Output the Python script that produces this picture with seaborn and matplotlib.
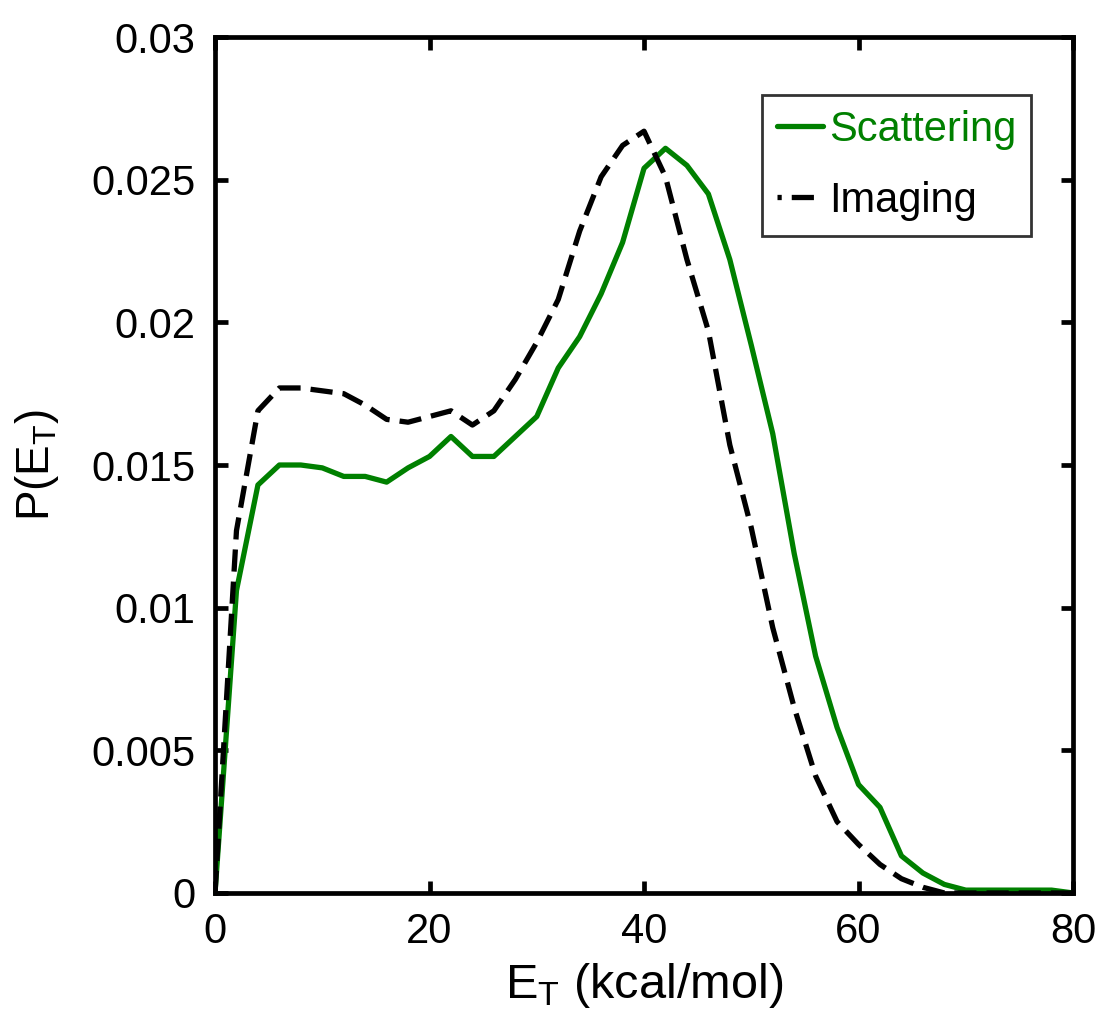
import numpy as np
import pandas as pd
import matplotlib
matplotlib.use("Agg")
import matplotlib.pyplot as plt
import seaborn as sns

energy = [0, 2, 4, 6, 8, 10, 12, 14, 16, 18, 20, 22, 24, 26, 28, 30, 32, 34, 36, 38,
          40, 42, 44, 46, 48, 50, 52, 54, 56, 58, 60, 62, 64, 66, 68, 70, 72, 74, 76, 78, 80]
scattering = [0.0, 0.0106, 0.0143, 0.0150, 0.0150, 0.0149, 0.0146, 0.0146, 0.0144, 0.0149,
              0.0153, 0.0160, 0.0153, 0.0153, 0.0160, 0.0167, 0.0184, 0.0195, 0.0210, 0.0228,
              0.0254, 0.0261, 0.0255, 0.0245, 0.0222, 0.0192, 0.0161, 0.0119, 0.0083, 0.0058,
              0.0038, 0.0030, 0.0013, 0.0007, 0.0003, 0.0001, 0.0001, 0.0001, 0.0001, 0.0001, 0.0]
imaging = [0.0, 0.0127, 0.0169, 0.0177, 0.0177, 0.0176, 0.0175, 0.0171, 0.0166, 0.0165,
           0.0167, 0.0169, 0.0164, 0.0169, 0.0180, 0.0193, 0.0208, 0.0232, 0.0251, 0.0262,
           0.0267, 0.0251, 0.0222, 0.0197, 0.0157, 0.0128, 0.0093, 0.0065, 0.0041, 0.0025,
           0.0017, 0.0010, 0.0005, 0.0002, 0.0, 0.0, 0.0, 0.0, 0.0, 0.0, 0.0]
series_names = ["Scattering", "Imaging"]
x_ticks = [0, 20, 40, 60, 80]
y_ticks = [0, 0.005, 0.01, 0.015, 0.02, 0.025, 0.03]
y_tick_labels = ["0", "0.005", "0.01", "0.015", "0.02", "0.025", "0.03"]

sns.set_style("ticks")
plt.rcParams["font.family"] = ["Liberation Sans", "DejaVu Sans"]
plt.rcParams["mathtext.fontset"] = "custom"
plt.rcParams["mathtext.rm"] = "Liberation Sans"
plt.rcParams["mathtext.it"] = "Liberation Sans"
plt.rcParams["text.color"] = "black"
plt.rcParams["axes.labelcolor"] = "black"
plt.rcParams["xtick.color"] = "black"
plt.rcParams["ytick.color"] = "black"
plt.rcParams["lines.linewidth"] = 3.8

LW = 3.8
df = pd.DataFrame({
    "E": energy * 2,
    "P": scattering + imaging,
    "series": [series_names[0]] * len(energy) + [series_names[1]] * len(energy),
})

fig = plt.figure(figsize=(11.01, 10.23), dpi=100)
ax = fig.add_axes([0.1953, 0.1271, 0.7793, 0.8367])

palette = {"Scattering": "#008000", "Imaging": "black"}
sns.lineplot(data=df, x="E", y="P", hue="series", style="series",
             palette=palette, dashes={"Scattering": "", "Imaging": (4.2, 1.9)},
             linewidth=LW, ax=ax, legend=True)
for ln in ax.lines:
    ln.set_linewidth(LW)
    ln.set_dash_capstyle("butt")

ax.set_xlim(0, 80)
ax.set_ylim(0, 0.03)
ax.set_xticks(x_ticks)
ax.set_xticklabels([str(t) for t in x_ticks])
ax.set_yticks(y_ticks)
ax.set_yticklabels(y_tick_labels)

for s in ax.spines.values():
    s.set_visible(True)
    s.set_linewidth(3.4)
    s.set_color("black")
ax.tick_params(direction="in", length=9, width=3.4, top=True, right=True,
               labelsize=30, pad=14, colors="black")

ax.set_xlabel(r"E$_\mathrm{T}$ (kcal/mol)", fontsize=35, labelpad=6)
ax.set_ylabel(r"P(E$_\mathrm{T}$)", fontsize=33, labelpad=22)

handles, labels = ax.get_legend_handles_labels()
for h, name in zip(handles, labels):
    h.set_linewidth(LW)
    if name == "Imaging":
        h.set_linestyle((3.4, (4.2, 1.9)))
leg = ax.legend(handles, labels, loc="upper right", bbox_to_anchor=(0.951, 0.932),
                fontsize=30, frameon=True, fancybox=False, edgecolor="black",
                handlelength=1.1, handletextpad=0.15, borderpad=0.35,
                labelspacing=0.75, borderaxespad=0.0)
leg.get_frame().set_linewidth(2.0)
for txt, name in zip(leg.get_texts(), labels):
    txt.set_color(palette[name])

fig.savefig("out.png", dpi=100)
